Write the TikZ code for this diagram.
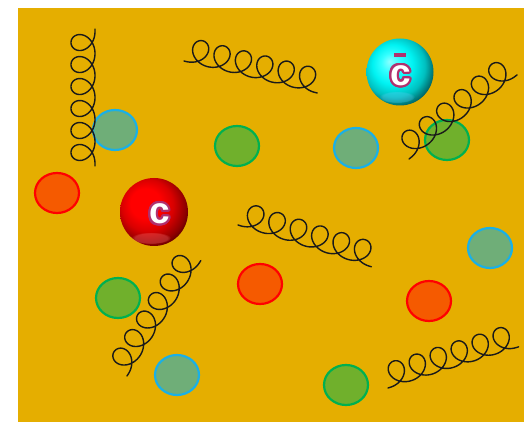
\documentclass[tikz,border=0pt]{standalone}
\usepackage{fontspec}
\setmainfont{Liberation Sans}
\usetikzlibrary{calc,fadings}

\definecolor{bgorange}{HTML}{E5AE00}
\definecolor{bluering}{HTML}{1AB0E6}
\definecolor{bluefill}{HTML}{6FAE78}
\definecolor{greenring}{HTML}{00B050}
\definecolor{greenfill}{HTML}{70B02C}
\definecolor{redring}{HTML}{FF0000}
\definecolor{redfill}{HTML}{F55A00}
\definecolor{quarkmag}{HTML}{B0306E}
\definecolor{gluonink}{HTML}{1A1A1A}
\definecolor{tealdark}{HTML}{0A4A4A}

% sphere shadings: light from the upper left (the sphere edge sits at 25bp)
\pgfdeclareradialshading{redball}{\pgfpoint{-8bp}{8bp}}{%
  color(0bp)=(red); color(11bp)=(red); color(19bp)=(red!85!black);
  color(27bp)=(red!55!black); color(33bp)=(red!20!black); color(50bp)=(black)}
\pgfdeclareradialshading{cyanball}{\pgfpoint{-8bp}{8bp}}{%
  color(0bp)=(cyan!45!white); color(7bp)=(cyan!80!white); color(15bp)=(cyan!90!teal);
  color(23bp)=(cyan!50!teal); color(30bp)=(teal!70!black); color(36bp)=(tealdark); color(50bp)=(black)}

\tikzset{
  x=1pt, y=1pt,
  blob/.style={line width=2.2pt},
  bluequark/.style={blob, draw=bluering, fill=bluefill},
  greenquark/.style={blob, draw=greenring, fill=greenfill},
  redquark/.style={blob, draw=redring, fill=redfill},
  gluonline/.style={draw=gluonink, line width=1.4pt, line join=round, line cap=round},
  quarkletter/.style={font=\bfseries\fontsize{37}{37}\selectfont, inner sep=0pt},
  % a gluon: six one-sided loops along the local x axis, 137 units long
  gluon/.pic={
    \draw[gluonline] (0,0) -- (2.5,0)
      -- plot[domain=0:37.699, samples=360, smooth]
         ({2.5+3.5*\x+13*sin(\x r)},{12-12*cos(\x r)})
      -- (137,0);
  }
}

% white letter with a magenta rim
\newcommand{\rimletter}[3]{%
  \foreach \a [count=\i] in {0,15,...,345}
    \node[quarkletter, text=quarkmag] (#1rim\i) at ($(#2)+(\a:2.1)$) {#3};
  \node[quarkletter, text=white] (#1) at (#2) {#3};
}

\begin{document}
\begin{tikzpicture}
\useasboundingbox (0,0) rectangle (524,422);
\fill[bgorange] (18,0) rectangle (524,414);

% colour-charged blobs
\draw[bluequark] (115,292) ellipse [x radius=22, y radius=20];
\draw[bluequark] (356,274) ellipse [x radius=22, y radius=20];
\draw[bluequark] (490,174) ellipse [x radius=22, y radius=20];
\draw[bluequark] (177,47) ellipse [x radius=22, y radius=20];

\draw[greenquark] (237,276) ellipse [x radius=22, y radius=20];
\draw[greenquark] (447,282) ellipse [x radius=22, y radius=20];
\draw[greenquark] (118,124) ellipse [x radius=22, y radius=20];
\draw[greenquark] (346,37) ellipse [x radius=22, y radius=20];

\draw[redquark] (57,229) ellipse [x radius=22, y radius=20];
\draw[redquark] (260,138) ellipse [x radius=22, y radius=20];
\draw[redquark] (429,121) ellipse [x radius=22, y radius=20];

% gluons
\coordinate (g1) at (95,256);
\coordinate (g2) at (184,361);
\coordinate (g3) at (409,263);
\coordinate (g4) at (238,197);
\coordinate (g5) at (127,46);
\coordinate (g6) at (388,34);
\pic[rotate=90] at (g1) {gluon};
\pic[rotate=-13.5] at (g2) {gluon};
\pic[rotate=37.9] at (g3) {gluon};
\pic[rotate=-17.4, xscale=1.02] at (g4) {gluon};
\pic[rotate=57.4] at (g5) {gluon};
\pic[rotate=17.5] at (g6) {gluon};

% charm quark
\coordinate (cq) at (154,210);
\shade[shading=redball] (cq) circle [radius=34];
\fill[red!50!white, opacity=0.3, path fading=circle with fuzzy edge 20 percent]
  ($(cq)+(-3,-26)$) ellipse [x radius=20, y radius=6];
\coordinate (cqtext) at (159.5,208);
\rimletter{cletter}{cqtext}{c}

% anti-charm quark
\coordinate (aq) at (400,350);
\shade[shading=cyanball] (aq) circle [radius=33.5];
\fill[cyan!60!white, opacity=0.3, path fading=circle with fuzzy edge 20 percent]
  ($(aq)+(-3,-25)$) ellipse [x radius=18, y radius=6];
\coordinate (aqtext) at (400.5,346.5);
\rimletter{acletter}{aqtext}{c}
\fill[quarkmag] (393.5,365) rectangle (405.5,369);
\end{tikzpicture}
\end{document}
